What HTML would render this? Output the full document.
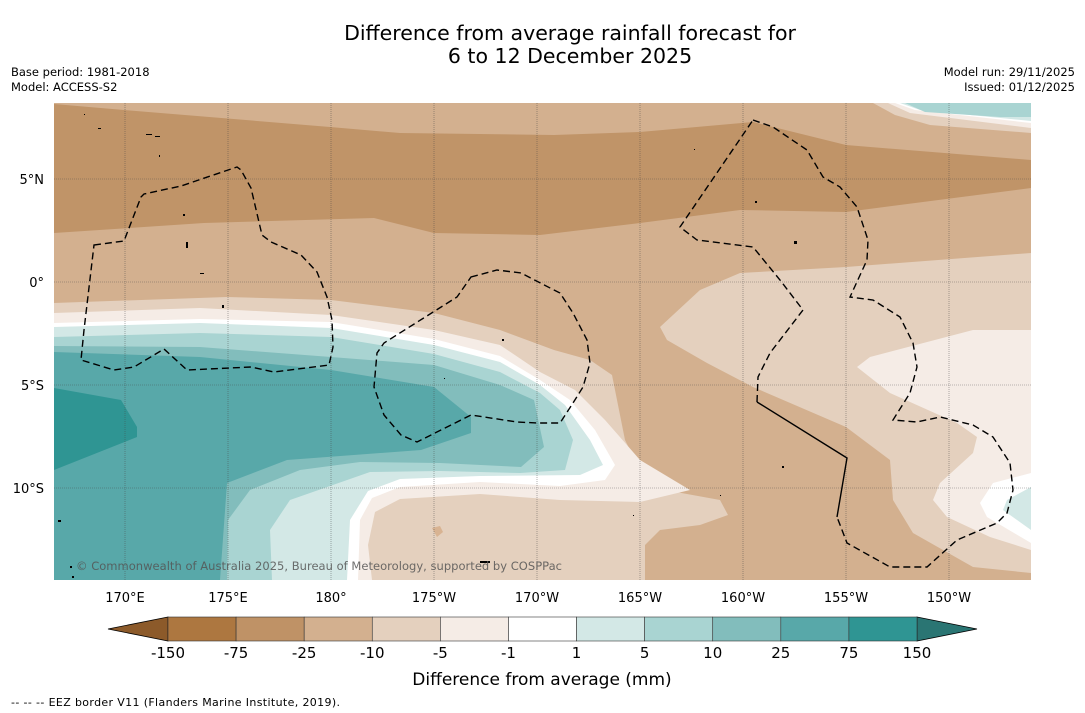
<!DOCTYPE html>
<html><head><meta charset="utf-8">
<style>
html,body{margin:0;padding:0;background:#fff;}
body{width:1085px;height:713px;position:relative;overflow:hidden;font-family:"DejaVu Sans","Liberation Sans",sans-serif;color:#000;}
.t{position:absolute;white-space:nowrap;}
</style></head>
<body>
<div class="t" style="left:0;width:1140px;text-align:center;top:22px;font-size:20.5px;line-height:23px;">Difference from average rainfall forecast for<br>6 to 12 December 2025</div>
<div class="t" style="left:11px;top:65px;font-size:11.5px;line-height:15px;">Base period: 1981-2018<br>Model: ACCESS-S2</div>
<div class="t" style="right:10px;top:65px;font-size:11.5px;line-height:15px;text-align:right;">Model run: 29/11/2025<br>Issued: 01/12/2025</div>

<svg width="1085" height="713" style="position:absolute;left:0;top:0;">
<defs><clipPath id="mc"><rect x="54" y="103" width="977" height="477"/></clipPath></defs>
<g clip-path="url(#mc)">
<rect x="54" y="103" width="977" height="477" fill="#d3b08f"/>
<path fill="#c09468" d="M54,104 L124,110 L330,127 L400,133 L554,135 L640,132 L753,122 L846,145 L1031,160 L1031,188 L846,212 L740,210 L640,223 L540,235 L434,233 L374,218 L204,223 L54,233Z"/>
<path fill="#e4d0be" d="M873,103 L895,115 L930,125 L1031,133 L1031,103Z"/>
<path fill="#f5ece6" d="M888,103 L910,113 L1031,128 L1031,103Z"/>
<path fill="#ffffff" d="M895,103 L915,110 L1031,123 L1031,103Z"/>
<path fill="#d3e8e6" d="M900,103 L920,110 L1031,121 L1031,103Z"/>
<path fill="#a9d4d2" d="M905,103 L925,112 L1000,117 L1031,117 L1031,103Z"/>
<path fill="#e4d0be" d="M54,303 L227,297 L331,300 L434,313 L500,330 L554,350 L590,360 L612,375 L617,400 L625,440 L640,470 L665,490 L720,500 L728,515 L700,525 L660,530 L645,545 L645,580 L54,580Z"/>
<path fill="#e4d0be" d="M660,327 L700,290 L740,273 L846,267 L1031,253 L1031,573 L973,567 L913,533 L893,500 L890,460 L846,427 L753,387 L707,363 L667,340Z"/>
<path fill="#f5ece6" d="M857,367 L870,357 L973,330 L1031,330 L1031,550 L990,537 L947,517 L933,500 L940,483 L973,453 L977,437 L957,423 L890,393Z"/>
<path fill="#ffffff" d="M1031,473 L993,483 L980,503 L987,517 L1031,543Z"/>
<path fill="#d3e8e6" d="M1031,487 L1007,500 L1003,510 L1031,530Z"/>
<path fill="#f5ece6" d="M54,313 L200,308 L331,315 L434,330 L500,345 L540,372 L575,390 L605,420 L640,460 L690,490 L640,502 L560,500 L480,494 L400,499 L375,512 L368,545 L372,580 L54,580Z"/>
<path fill="#ffffff" d="M54,323 L200,319 L331,322 L434,339 L500,356 L540,380 L570,400 L595,430 L615,465 L605,480 L560,486 L480,482 L400,487 L372,498 L360,520 L358,580 L54,580Z"/>
<path fill="#d3e8e6" d="M54,327 L200,323 L331,328 L434,345 L500,362 L540,385 L565,405 L590,440 L603,465 L580,475 L480,476 L400,479 L368,491 L350,520 L347,580 L54,580Z"/>
<path fill="#a9d4d2" d="M54,337 L200,333 L331,337 L434,354 L500,372 L540,393 L560,410 L573,440 L565,470 L520,473 L440,471 L370,472 L330,486 L290,500 L270,530 L272,580 L54,580Z"/>
<path fill="#82bdbc" d="M54,346 L200,347 L331,357 L434,365 L500,385 L534,400 L544,447 L521,467 L440,463 L360,462 L300,470 L250,490 L228,520 L227,580 L54,580Z"/>
<path fill="#58a8a9" d="M54,352 L200,357 L331,370 L434,387 L471,417 L471,433 L421,450 L287,460 L227,483 L220,580 L54,580Z"/>
<path fill="#2f9593" d="M54,388 L121,400 L137,427 L137,437 L54,470Z"/>
<path fill="#d8b392" d="M432,528 l8,-2 l3,6 l-6,5 z"/>
</g>
<g id="grid" stroke="#444" stroke-width="0.6" stroke-dasharray="1,1" opacity="0.7"></g>
<g fill="none" stroke="#000" stroke-width="1.4" stroke-dasharray="7,4" clip-path="url(#mc)">
<path d="M94,245 L124,241 L141,197 L144,194 L181,186 L237,167 L241,170 L251,188 L262,235 L271,242 L301,255 L317,272 L327,297 L332,320 L333,347 L329,365 L274,372 L251,367 L187,370 L164,349 L134,367 L114,370 L81,360 L84,330 Z"/>
<path d="M471,277 L497,270 L521,273 L554,290 L560,293 L573,313 L587,340 L590,363 L583,387 L573,403 L560,423 L537,423 L517,422 L471,415 L417,442 L401,435 L384,415 L374,387 L377,353 L384,343 L457,297 Z"/>
<path d="M753,120 L773,127 L807,150 L823,177 L840,187 L857,207 L868,240 L867,260 L850,297 L873,300 L900,317 L913,343 L917,367 L910,393 L893,420 L917,422 L940,417 L973,425 L993,437 L1010,463 L1013,490 L1007,513 L997,523 L957,540 L927,567 L890,567 L847,543 L837,517"/>
<path d="M837,517 L847,458 L757,402" stroke-dasharray="none"/>
<path d="M757,402 L758,377 L770,353 L803,310 L780,280 L753,247 L697,240 L680,227 L753,120"/>
</g>
<g fill="#000">
<rect x="84" y="114" width="1" height="1"/><rect x="98" y="128" width="3" height="1"/><rect x="146" y="134" width="6" height="1"/><rect x="155" y="136" width="5" height="1"/><rect x="159" y="155" width="1" height="2"/><rect x="183" y="214" width="2" height="2"/><rect x="186" y="242" width="2" height="6"/><rect x="200" y="273" width="4" height="1"/><rect x="222" y="305" width="2" height="3"/><rect x="502" y="339" width="2" height="2"/><rect x="694" y="149" width="1" height="1"/><rect x="755" y="201" width="2" height="2"/><rect x="794" y="241" width="3" height="3"/><rect x="782" y="466" width="2" height="2"/><rect x="720" y="495" width="1" height="1"/><rect x="480" y="561" width="10" height="2"/><rect x="58" y="520" width="3" height="2"/><rect x="70" y="566" width="2" height="2"/><rect x="72" y="576" width="2" height="2"/><rect x="444" y="378" width="1" height="1"/><rect x="633" y="515" width="1" height="1"/>
</g>
<text x="76" y="570" font-size="11.5" fill="#555" fill-opacity="0.85" font-family="DejaVu Sans, Liberation Sans, sans-serif" textLength="486">© Commonwealth of Australia 2025, Bureau of Meteorology, supported by COSPPac</text>
<g id="axislabels" font-size="13" font-family="DejaVu Sans, Liberation Sans, sans-serif"></g>
<g id="cbar"></g>
<text x="542" y="685" font-size="17" text-anchor="middle" font-family="DejaVu Sans, Liberation Sans, sans-serif">Difference from average (mm)</text>
<text x="11" y="706" font-size="11" font-family="DejaVu Sans, Liberation Sans, sans-serif" textLength="329">--  --  -- EEZ border V11 (Flanders Marine Institute, 2019).</text>
</svg>

<script>
const lonTicks = [170, 175, 180, -175, -170, -165, -160, -155, -150];
const lonLabels = ["170°E","175°E","180°","175°W","170°W","165°W","160°W","155°W","150°W"];
const latTicks = [5, 0, -5, -10];
const latLabels = ["5°N","0°","5°S","10°S"];
const cbarLevels = ["-150","-75","-25","-10","-5","-1","1","5","10","25","75","150"];
const cbarColors = ["#ad7740","#bf9266","#d3b08f","#e4d0be","#f5ece6","#ffffff","#d3e8e6","#a9d4d2","#82bdbc","#58a8a9","#2f9593"];
const cbarExtend = ["#8c5a2a","#2a7573"];

const NS = "http://www.w3.org/2000/svg";
const pxPerDeg = 20.6;
function xLon(l){ const e = l < 0 ? 360 + l : l; return 125 + (e - 170) * pxPerDeg; }
function yLat(l){ return 282 - l * pxPerDeg; }
function mk(tag, attrs, parent){ const el = document.createElementNS(NS, tag); for (const k in attrs) el.setAttribute(k, attrs[k]); parent.appendChild(el); return el; }

const grid = document.getElementById('grid');
const ax = document.getElementById('axislabels');
lonTicks.forEach((l, i) => {
  const x = xLon(l);
  const ln = mk('line', {x1:x, x2:x, y1:103, y2:580}, grid);
  
  
  const t = mk('text', {x:x, y:602, 'text-anchor':'middle'}, ax);
  t.textContent = lonLabels[i];
  
  
});
latTicks.forEach((l, i) => {
  const y = yLat(l);
  const ln = mk('line', {x1:54, x2:1031, y1:y, y2:y}, grid);
  
  
  const t = mk('text', {x:44, y:y + 5, 'text-anchor':'end'}, ax);
  t.textContent = latLabels[i];
  
  
});

const cb = document.getElementById('cbar');
const cx0 = 168, cx1 = 917, cy = 617, ch = 24;
const segW = (cx1 - cx0) / cbarColors.length;
const la = mk('polygon', {points:`${cx0},${cy} 108,${cy+ch/2} ${cx0},${cy+ch}`, fill:cbarExtend[0], stroke:'#000', 'stroke-width':0.8}, cb);


const ra = mk('polygon', {points:`${cx1},${cy} 977,${cy+ch/2} ${cx1},${cy+ch}`, fill:cbarExtend[1], stroke:'#000', 'stroke-width':0.8}, cb);


cbarColors.forEach((c, i) => {
  const r = mk('rect', {x:cx0 + i*segW, y:cy, width:segW, height:ch, fill:c, stroke:'#333', 'stroke-width':0.6}, cb);
  
  
});
cbarLevels.forEach((lab, i) => {
  const t = mk('text', {x:cx0 + i*segW, y:658, 'text-anchor':'middle', 'font-size':15, 'font-family':'DejaVu Sans, Liberation Sans, sans-serif'}, cb);
  t.textContent = lab;
  
  
});
</script>
</body></html>
